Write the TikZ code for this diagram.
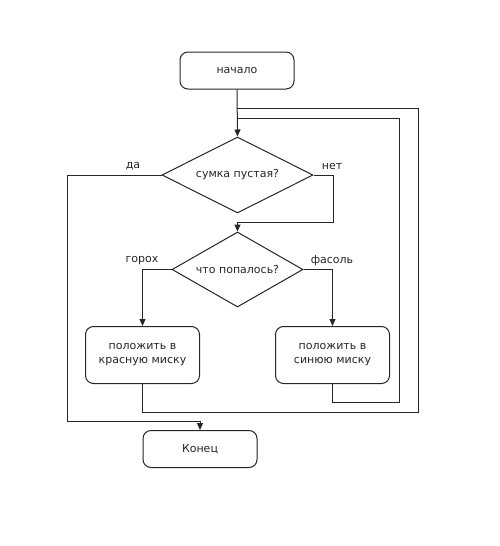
\documentclass[tikz,border=0pt]{standalone}
\usepackage{fontspec}
\setmainfont{DejaVu Sans}
\usetikzlibrary{shapes.geometric,arrows.meta}
\begin{document}
\begin{tikzpicture}[x=1pt,y=-1pt,
  every node/.style={font=\fontsize{11}{14}\selectfont, text=black!85},
  box/.style={draw=black!85, line width=1pt, rounded corners=8pt, minimum width=114pt, minimum height=37pt, align=center, inner sep=0pt},
  bigbox/.style={box, minimum height=57pt},
  dec/.style={draw=black!85, line width=1pt, diamond, aspect=2, inner sep=0pt},
  ln/.style={draw=black!85, line width=1pt},
  arr/.style={ln, -{Triangle[length=7pt,width=6pt]}},
  lbl/.style={inner sep=0pt}]
\useasboundingbox (0,0) rectangle (500,546);
\fill[white] (0,0) rectangle (500,546);
\node[box] (start) at (237,70.5) {начало};
\node[dec, minimum width=151pt, minimum height=76pt] (d1) at (237.5,175) {сумка пустая?};
\node[dec, minimum width=131pt, minimum height=75pt] (d2) at (237.5,269.5) {что попалось?};
\node[bigbox] (lbox) at (142.5,355) {положить в\\красную миску};
\node[bigbox] (rbox) at (332.5,355) {положить в\\синюю миску};
\node[box] (end) at (200,449) {Конец};
\coordinate (j1) at (237,108);
\coordinate (j2) at (237,118);
\node[lbl] (lda) at (133,166) {да};
\node[lbl] (lnet) at (332,166) {нет};
\node[lbl] (lgor) at (142,261) {горох};
\node[lbl] (lfas) at (332,261) {фасоль};
\draw[arr] (start.south) -- (d1.north);
\draw[arr] (d1.west) -| (67,421) -| (end.north);
\draw[arr] (d1.east) -| (333,222) -| (d2.north);
\draw[arr] (d2.west) -| (lbox.north);
\draw[arr] (d2.east) -| (rbox.north);
\draw[ln] (lbox.south) |- (418,412) |- (j1);
\draw[ln] (rbox.south) |- (399,402) |- (j2);
\end{tikzpicture}
\end{document}
